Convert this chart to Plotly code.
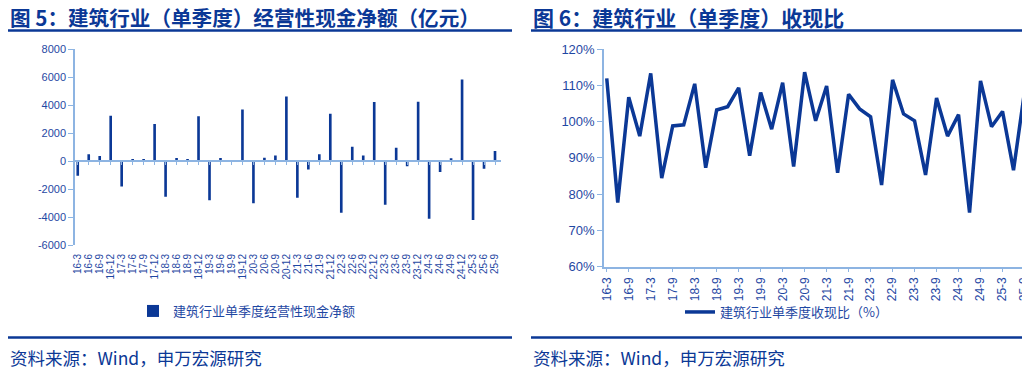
import plotly.graph_objects as go

# The page body has an 8px margin, so the figure is drawn 8px in from the window's corner.
OFF = 8
W, H = 1030 - OFF, 373 - OFF

quarters = ["16-3","16-6","16-9","16-12","17-3","17-6","17-9","17-12","18-3","18-6","18-9","18-12",
            "19-3","19-6","19-9","19-12","20-3","20-6","20-9","20-12","21-3","21-6","21-9","21-12",
            "22-3","22-6","22-9","22-12","23-3","23-6","23-9","23-12","24-3","24-6","24-9","24-12",
            "25-3","25-6","25-9"]

cash_flow = [-1050, 480, 360, 3240, -1830, 120, 120, 2640, -2550, 210, 120, 3190,
             -2810, 210, -70, 3670, -3020, 240, 400, 4600, -2620, -600, 480, 3380,
             -3690, 1020, 400, 4210, -3120, 950, -380, 4240, -4120, -790, 190, 5830,
             -4210, -550, 710]

collection_ratio = [111.9, 77.7, 106.7, 96.0, 113.3, 84.4, 98.8, 99.1, 110.4, 87.3, 103.2, 104.1,
                    109.3, 90.6, 108.0, 97.9, 110.7, 87.6, 113.6, 100.2, 109.8, 85.9, 107.5, 103.5,
                    101.3, 82.5, 111.5, 102.1, 100.2, 85.3, 106.5, 96.0, 101.9, 74.9, 111.2, 98.6,
                    102.8, 86.6, 108.2]

left_yticks = [-6000, -4000, -2000, 0, 2000, 4000, 6000, 8000]
right_yticks = [60, 70, 80, 90, 100, 110, 120]

title_left = "图 5：建筑行业（单季度）经营性现金净额（亿元）"
title_right = "图 6：建筑行业（单季度）收现比"
source_text = "资料来源：Wind，申万宏源研究"
bar_name = "建筑行业单季度经营性现金净额"
line_name = "建筑行业单季度收现比（%）"

DARK = "#0b3896"
TXT = "#1f48a3"
AX = "#8db4e2"
CJK = "Noto Sans CJK SC, Microsoft YaHei, sans-serif"
LAT = "Liberation Sans, Arial, sans-serif"

def px(x):
    return (x - OFF) / W

def py(y):
    return 1 - (y - OFF) / H

# left plot geometry (window pixels)
L_x0, L_x1 = 75, 500.5
L_ytop, L_ybot = 49, 245
# right plot geometry
R_x0, R_x1 = 604, 1030
R_ytop, R_ybot = 49, 266.7

n = len(quarters)
ly0, ly1 = py(L_ybot), py(L_ytop)
zero_pos = ly0 + (0 - left_yticks[0]) / (left_yticks[-1] - left_yticks[0]) * (ly1 - ly0)

fig = go.Figure()
fig.add_trace(go.Bar(x=quarters, y=cash_flow, name=bar_name, marker_color=DARK,
                     width=0.24, xaxis="x", yaxis="y", legend="legend"))
fig.add_trace(go.Scatter(x=quarters, y=[None] * n, xaxis="x3", yaxis="y",
                         showlegend=False, hoverinfo="skip"))
fig.add_trace(go.Scatter(x=quarters, y=collection_ratio, name=line_name, mode="lines",
                         line=dict(color=DARK, width=3.5), xaxis="x2", yaxis="y2",
                         legend="legend2"))

common_x = dict(type="category", categoryorder="array", categoryarray=quarters,
                range=[-0.25, n - 0.5], fixedrange=True, automargin=False)

fig.update_layout(
    template="none",
    width=W, height=H, margin=dict(l=0, r=0, t=0, b=0, pad=0), autosize=False,
    paper_bgcolor="white", plot_bgcolor="white", showlegend=True,
    xaxis=dict(**common_x, domain=[px(L_x0), px(L_x1)], anchor="y",
               showline=False, ticks="", showgrid=False, zeroline=False, tickangle=-90,
               tickmode="array", tickvals=quarters, ticktext=quarters,
               tickfont=dict(family=LAT, size=10, color=TXT), ticklabelstandoff=6),
    xaxis3=dict(**common_x, overlaying="x", anchor="free", position=zero_pos, side="bottom",
                showline=True, linecolor=AX, linewidth=1.5, ticks="outside", ticklen=3,
                tickcolor=AX, showticklabels=False, showgrid=False, zeroline=False,
                tickmode="array", tickvals=quarters),
    yaxis=dict(domain=[ly0, ly1], range=[left_yticks[0], left_yticks[-1]], anchor="x",
               tickmode="array", tickvals=left_yticks, ticktext=[str(v) for v in left_yticks],
               showline=True, linecolor=AX, linewidth=1.5, ticks="outside", ticklen=5,
               tickcolor=AX, showgrid=False, zeroline=False, automargin=False,
               tickfont=dict(family=LAT, size=11, color=TXT), fixedrange=True),
    xaxis2=dict(**common_x, domain=[px(R_x0), min(1.0, px(R_x1))], anchor="y2",
                showline=True, linecolor=AX, linewidth=1.5, ticks="outside", ticklen=4,
                tickcolor=AX, showgrid=False, zeroline=False, tickangle=-90,
                tickmode="array", tickvals=quarters[::2], ticktext=quarters[::2],
                tickfont=dict(family=LAT, size=12, color=TXT)),
    yaxis2=dict(domain=[py(R_ybot), py(R_ytop)], range=[right_yticks[0], right_yticks[-1]],
                anchor="x2", tickmode="array", tickvals=right_yticks,
                ticktext=[f"{v}%" for v in right_yticks],
                showline=True, linecolor=AX, linewidth=1.5, ticks="outside", ticklen=5,
                tickcolor=AX, showgrid=False, zeroline=False, automargin=False,
                tickfont=dict(family=LAT, size=13, color=TXT), fixedrange=True),
    legend=dict(x=px(133), y=py(311), xanchor="left", yanchor="middle",
                orientation="h", font=dict(family=CJK, size=13, color=TXT),
                bgcolor="rgba(0,0,0,0)", itemwidth=30),
    legend2=dict(x=px(680), y=py(312), xanchor="left", yanchor="middle",
                 orientation="h", font=dict(family=CJK, size=13, color=TXT),
                 bgcolor="rgba(0,0,0,0)", itemwidth=30),
)

# titles
fig.add_annotation(text=title_left, x=px(8), y=py(17.5), xref="paper", yref="paper",
                   xanchor="left", yanchor="middle", showarrow=False,
                   font=dict(family=CJK, size=20.6, color=DARK, weight="bold"))
fig.add_annotation(text=title_right, x=px(531), y=py(17.5), xref="paper", yref="paper",
                   xanchor="left", yanchor="middle", showarrow=False,
                   font=dict(family=CJK, size=21, color=DARK, weight="bold"))
# sources
for sx in (8, 531):
    fig.add_annotation(text=source_text, x=px(sx), y=py(357), xref="paper", yref="paper",
                       xanchor="left", yanchor="middle", showarrow=False,
                       font=dict(family=CJK, size=17.5, color=DARK))

# rules under titles and above sources
for (x0, x1) in ((8, 512), (531, 1026)):
    fig.add_shape(type="line", xref="paper", yref="paper", x0=px(x0), x1=px(x1),
                  y0=py(30.5), y1=py(30.5), line=dict(color=DARK, width=2.5))
    fig.add_shape(type="line", xref="paper", yref="paper", x0=px(x0), x1=px(x1),
                  y0=py(337.5), y1=py(337.5), line=dict(color=DARK, width=2.5))

fig.write_html("out.html")
